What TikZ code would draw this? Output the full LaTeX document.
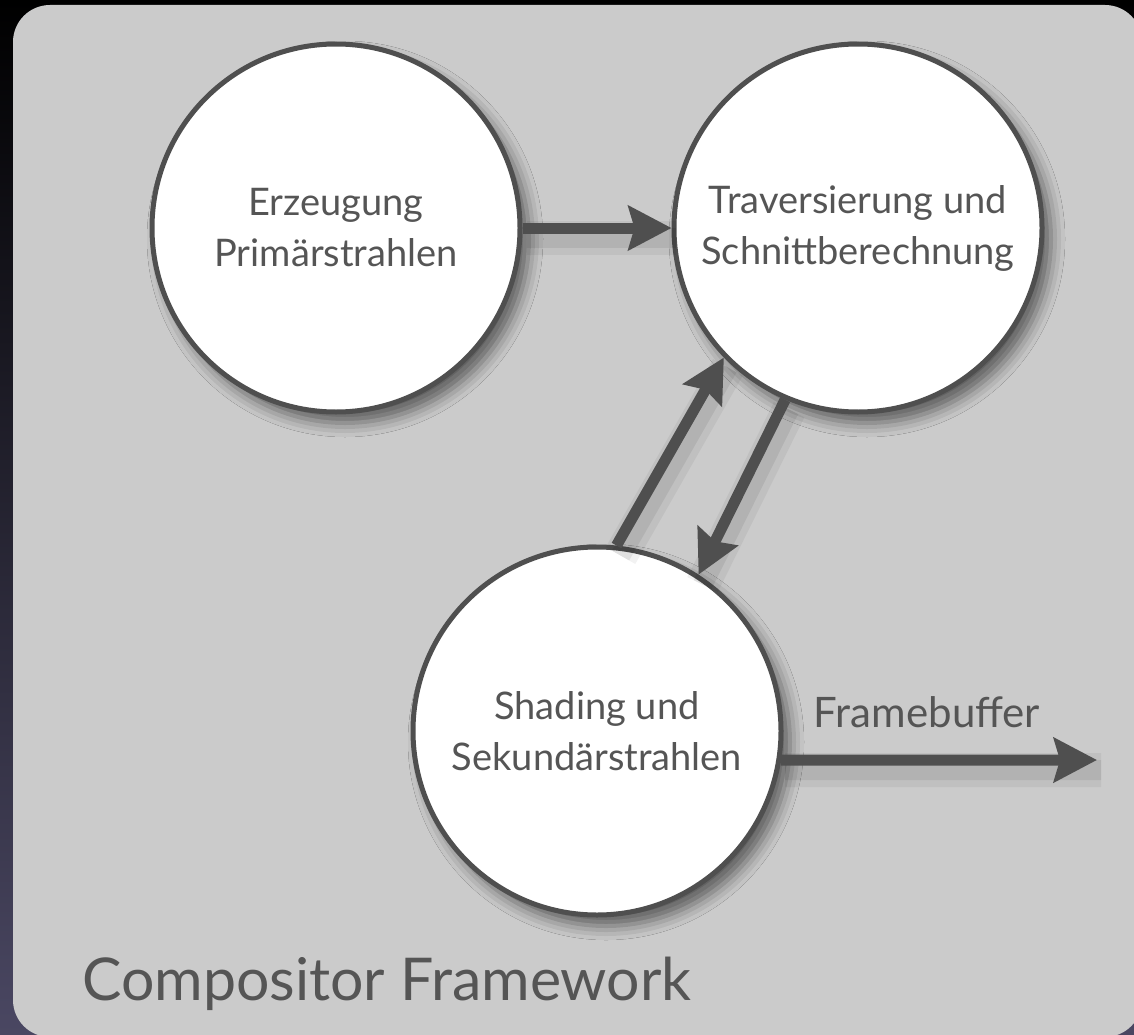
\documentclass[tikz,border=0pt]{standalone}
\usepackage{fontspec}
\setmainfont{Lato}
\usetikzlibrary{arrows.meta,shadows.blur}
\definecolor{ink}{HTML}{555555}
\definecolor{edge}{HTML}{4F4F4F}
\definecolor{panel}{HTML}{CBCBCB}
\definecolor{deepbg}{HTML}{4A4762}

\begin{document}
\begin{tikzpicture}[x=1pt, y=-1pt,
    stage/.style={circle, draw=edge, line width=5pt, fill=white, minimum size=368pt, inner sep=0pt, align=center, text=ink, font=\fontsize{38}{51}\selectfont, blur shadow={shadow xshift=9pt, shadow yshift=-11pt, shadow blur radius=14pt, shadow opacity=55}},
    flow/.style={draw=edge, line width=11pt, -{Stealth[length=43pt, width=44pt, inset=6pt]},
      preaction={draw=black, opacity=0.05, line width=34pt, -, transform canvas={shift={(4pt,-10pt)}}},
      preaction={draw=black, opacity=0.07, line width=20pt, -, transform canvas={shift={(4pt,-10pt)}}}},
    caption/.style={text=ink, inner sep=0pt}
    ]
    % background and frame
    \path[use as bounding box, clip] (0,0) rectangle (1134,1035);
    \shade[top color=black, bottom color=deepbg] (0,0) rectangle (1134,1035);
    \fill[panel, rounded corners=37pt] (13,5) rectangle (1142,1037);

    \node[stage] (erzeugung) at (336,228) {Erzeugung\\Primärstrahlen};
    \node[stage] (traversierung) at (858,228) {Traversierung und\\Schnittberechnung};
    \node[stage] (shading) at (597,731) {Shading und\\Sekundärstrahlen};
    \coordinate (fbout) at (1097,760);

    \draw[flow] (erzeugung) -- (traversierung);
    \draw[flow] (shading.84) -- (traversierung.224);
    \draw[flow] (traversierung.247) -- (shading.57);
    \draw[flow] (shading.-9) -- (fbout);

    \node[caption, anchor=base, font=\fontsize{42}{50}\selectfont] (framebuffer) at (927,727) {Framebuffer};
    \node[caption, anchor=base west, font=\fontsize{59}{70}\selectfont] (compositor) at (82,1000) {Compositor Framework};
\end{tikzpicture}
\end{document}
